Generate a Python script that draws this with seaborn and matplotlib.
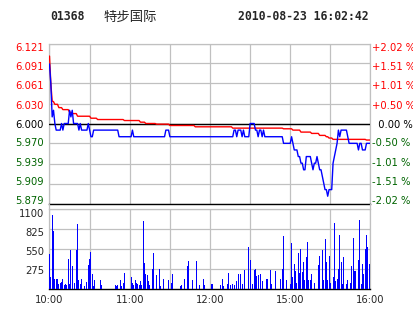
import matplotlib
matplotlib.use("Agg")
import matplotlib.pyplot as plt
from matplotlib.lines import Line2D
import seaborn as sns

# ---------------- data ----------------
stock_code = "01368"
stock_name = "特步国际"
stamp = "2010-08-23 16:02:42"
prev_close = 6.000

# last price per minute, 10:00 .. 12:30 | 14:30 .. 16:00 (241 points)
price = [
    6.09, 6.06, 6.01, 6.02, 6.00, 5.99, 5.99, 5.99, 5.99, 6.00,
    5.99, 6.00, 6.00, 6.00, 6.00, 6.02, 6.01, 6.02, 6.00, 6.00,
    6.00, 6.00, 5.99, 6.00, 5.99, 5.99, 5.99, 5.99, 5.99, 6.00,
    5.99, 5.98, 5.98, 5.99, 5.99, 5.99, 5.99, 5.99, 5.99, 5.99,
    5.99, 5.99, 5.99, 5.99, 5.99, 5.99, 5.99, 5.99, 5.99, 5.99,
    5.99, 5.99, 5.98, 5.98, 5.98, 5.98, 5.98, 5.98, 5.98, 5.98,
    5.98, 5.98, 5.99, 5.98, 5.98, 5.98, 5.98, 5.98, 5.98, 5.98,
    5.98, 5.98, 5.98, 5.98, 5.98, 5.98, 5.98, 5.98, 5.98, 5.98,
    5.98, 5.98, 5.98, 5.98, 5.98, 5.98, 5.98, 5.99, 5.99, 5.99,
    5.98, 5.98, 5.98, 5.98, 5.98, 5.98, 5.98, 5.98, 5.98, 5.98,
    5.98, 5.98, 5.98, 5.98, 5.98, 5.98, 5.98, 5.98, 5.98, 5.98,
    5.98, 5.98, 5.98, 5.98, 5.98, 5.98, 5.98, 5.98, 5.98, 5.98,
    5.98, 5.98, 5.98, 5.98, 5.98, 5.98, 5.98, 5.98, 5.98, 5.98,
    5.98, 5.98, 5.98, 5.98, 5.98, 5.98, 5.98, 5.98, 5.99, 5.99,
    5.98, 5.99, 5.99, 5.99, 5.98, 5.99, 5.98, 5.98, 5.98, 5.98,
    6.00, 6.00, 6.00, 6.00, 5.99, 5.99, 5.98, 5.99, 5.99, 5.98,
    5.99, 5.98, 5.98, 5.98, 5.98, 5.98, 5.98, 5.98, 5.98, 5.98,
    5.98, 5.98, 5.98, 5.98, 5.98, 5.97, 5.97, 5.97, 5.97, 5.97,
    5.97, 5.98, 5.97, 5.96, 5.96, 5.96, 5.95, 5.95, 5.94, 5.94,
    5.93, 5.93, 5.95, 5.95, 5.95, 5.95, 5.94, 5.93, 5.94, 5.94,
    5.95, 5.94, 5.93, 5.93, 5.92, 5.91, 5.90, 5.90, 5.89, 5.90,
    5.90, 5.90, 5.94, 5.95, 5.96, 5.97, 5.99, 5.98, 5.99, 5.99,
    5.99, 5.99, 5.99, 5.98, 5.97, 5.97, 5.97, 5.97, 5.97, 5.97,
    5.97, 5.96, 5.97, 5.97, 5.96, 5.96, 5.96, 5.97, 5.97, 5.97,
    5.97,
]

# average price per minute (241 points)
avg_price = [
    6.102, 6.060, 6.034, 6.033, 6.029, 6.029, 6.029, 6.024, 6.024, 6.024,
    6.021, 6.021, 6.021, 6.021, 6.021, 6.017, 6.017, 6.015, 6.015, 6.015,
    6.015, 6.011, 6.011, 6.011, 6.011, 6.011, 6.011, 6.011, 6.011, 6.011,
    6.011, 6.008, 6.008, 6.008, 6.008, 6.008, 6.006, 6.006, 6.006, 6.006,
    6.006, 6.006, 6.006, 6.006, 6.006, 6.006, 6.006, 6.006, 6.006, 6.006,
    6.006, 6.006, 6.006, 6.006, 6.006, 6.006, 6.0045, 6.0045, 6.0045, 6.0045,
    6.0045, 6.0045, 6.0045, 6.0045, 6.0045, 6.0045, 6.0045, 6.0045, 6.002, 6.002,
    6.002, 6.002, 6.000, 6.000, 6.000, 6.000, 6.000, 6.000, 6.000, 6.000,
    5.999, 5.999, 5.999, 5.999, 5.999, 5.999, 5.999, 5.999, 5.999, 5.999,
    5.997, 5.997, 5.997, 5.997, 5.997, 5.997, 5.997, 5.997, 5.997, 5.997,
    5.997, 5.997, 5.997, 5.997, 5.997, 5.997, 5.997, 5.997, 5.997, 5.995,
    5.995, 5.995, 5.995, 5.995, 5.995, 5.995, 5.995, 5.995, 5.995, 5.995,
    5.995, 5.995, 5.995, 5.995, 5.995, 5.995, 5.995, 5.995, 5.995, 5.995,
    5.995, 5.995, 5.995, 5.995, 5.995, 5.995, 5.995, 5.993, 5.993, 5.993,
    5.993, 5.993, 5.993, 5.993, 5.993, 5.993, 5.993, 5.993, 5.993, 5.993,
    5.993, 5.993, 5.993, 5.993, 5.993, 5.993, 5.993, 5.993, 5.993, 5.993,
    5.993, 5.993, 5.993, 5.993, 5.993, 5.993, 5.993, 5.993, 5.993, 5.993,
    5.993, 5.993, 5.993, 5.993, 5.993, 5.992, 5.992, 5.992, 5.992, 5.992,
    5.992, 5.992, 5.990, 5.990, 5.990, 5.990, 5.990, 5.990, 5.987, 5.987,
    5.987, 5.987, 5.987, 5.987, 5.987, 5.987, 5.985, 5.985, 5.985, 5.985,
    5.985, 5.985, 5.982, 5.982, 5.982, 5.982, 5.982, 5.980, 5.980, 5.978,
    5.978, 5.978, 5.976, 5.976, 5.976, 5.976, 5.976, 5.976, 5.976, 5.976,
    5.976, 5.976, 5.976, 5.976, 5.976, 5.976, 5.976, 5.976, 5.976, 5.976,
    5.976, 5.976, 5.976, 5.976, 5.976, 5.976, 5.976, 5.975, 5.975, 5.975,
    5.975,
]

# volume bars (minute index, volume)
vol_minute = [
    0, 1, 2, 3, 4, 5, 6, 7, 8, 9, 10, 11, 12, 13, 14, 15, 16, 17, 19, 20,
    21, 22, 23, 24, 26, 28, 29, 30, 31, 32, 33, 34, 37, 38, 39, 40, 49, 50, 51, 53,
    54, 55, 56, 61, 62, 63, 64, 65, 66, 67, 68, 69, 70, 71, 72, 73, 74, 75, 77, 78,
    80, 82, 83, 85, 89, 91, 92, 98, 99, 101, 103, 104, 107, 110, 112, 115, 116, 117, 121, 122,
    123, 128, 129, 130, 133, 134, 135, 137, 138, 140, 141, 143, 144, 146, 149, 150, 152, 153, 154, 155,
    156, 158, 159, 162, 163, 165, 166, 169, 173, 174, 175, 177, 180, 181, 182, 183, 184, 185, 186, 187,
    188, 189, 190, 191, 192, 193, 194, 195, 196, 198, 200, 201, 202, 203, 204, 205, 206, 207, 208, 209,
    210, 212, 213, 214, 215, 216, 217, 218, 219, 220, 222, 223, 225, 226, 227, 228, 229, 231, 232, 233,
    234, 235, 236, 237, 238, 239, 240,
]
vol_value = [
    475, 158, 1020, 797, 135, 126, 135, 56, 75, 89, 135, 51, 56, 51, 405, 65, 531, 312, 79, 531,
    895, 112, 65, 126, 28, 89, 322, 405, 508, 205, 28, 112, 98, 112, 42, 89, 42, 28, 42, 112,
    28, 79, 219, 158, 79, 51, 112, 79, 65, 42, 98, 42, 937, 359, 205, 182, 98, 42, 275, 485,
    191, 266, 28, 126, 112, 79, 205, 28, 51, 126, 308, 377, 112, 377, 51, 135, 42, 112, 65, 56,
    391, 42, 126, 28, 65, 219, 51, 56, 42, 98, 205, 205, 65, 252, 568, 391, 65, 261, 275, 168,
    191, 205, 98, 135, 126, 252, 56, 238, 126, 275, 727, 112, 56, 624, 158, 345, 238, 79, 485, 219,
    545, 228, 368, 112, 429, 638, 112, 112, 196, 75, 205, 322, 447, 252, 531, 112, 685, 368, 112, 447,
    79, 158, 904, 98, 135, 266, 741, 368, 56, 429, 56, 112, 79, 308, 704, 238, 238, 391, 951, 65,
    335, 205, 545, 741, 578, 345, 377,
]

price_ticks = [6.121, 6.091, 6.061, 6.030, 6.000, 5.970, 5.939, 5.909, 5.879]
price_labels = ["6.121", "6.091", "6.061", "6.030", "6.000", "5.970", "5.939", "5.909", "5.879"]
pct_labels = ["+2.02 %", "+1.51 %", "+1.01 %", "+0.50 %", "  0.00 %",
              "-0.50 %", "-1.01 %", "-1.51 %", "-2.02 %"]
vol_ticks = [275, 550, 825, 1100]
vol_labels = ["275", "550", "825", "1100"]
time_grid = [0, 30, 60, 90, 120, 150, 180, 210, 240]
time_labels = ["10:00", "", "11:00", "", "12:00", "", "15:00", "", "16:00"]

# ---------------- style ----------------
RED = "#FF0000"
GREEN = "#006400"
BLUE = "#0000FF"
GRID = "#C0C0C0"
W, H = 414, 314

sns.set_style("white")
plt.rcParams["font.family"] = ["DejaVu Sans", "Noto Sans CJK SC"]

fig = plt.figure(figsize=(W / 100, H / 100), dpi=100)
fig.patch.set_facecolor("white")

L, R = 49.5, 370.5
axp = fig.add_axes([L / W, 1 - 203.5 / H, (R - L) / W, 160 / H])
axv = fig.add_axes([L / W, 1 - 288.5 / H, (R - L) / W, 79.5 / H])
axp.yaxis.remove_overlapping_locs = False
axv.yaxis.remove_overlapping_locs = False

minutes = list(range(len(price)))

# ---------------- price panel ----------------
sns.lineplot(x=minutes, y=avg_price, color=RED, lw=1.0, ax=axp, zorder=4)
sns.lineplot(x=minutes, y=price, color=BLUE, lw=1.0, ax=axp, zorder=5)
axp.axhline(prev_close, color="black", lw=1.0, zorder=3)

axp.set_xlim(time_grid[0], time_grid[-1])
axp.set_ylim(min(price_ticks), max(price_ticks))
axp.set_xticks(time_grid)
axp.set_xticklabels([])
axp.set_yticks(price_ticks)
axp.set_yticklabels([])
axp.grid(True, color=GRID, lw=0.9, zorder=1)
axp.set_axisbelow(True)
axp.tick_params(length=0)
axp.set_xlabel("")
axp.set_ylabel("")

def lab_color(i):
    return RED if i < 4 else ("black" if i == 4 else GREEN)

lab_pos = [prev_close + (t - prev_close) * 0.951 for t in price_ticks]
axp.set_yticks(lab_pos, labels=price_labels, minor=True)
axp.tick_params(axis="y", which="minor", length=0, pad=4.0, labelsize=7.2)
for i, t in enumerate(axp.get_yticklabels(minor=True)):
    t.set_color(lab_color(i))

axr = axp.twinx()
axr.set_ylim(axp.get_ylim())
axr.set_yticks(lab_pos, labels=pct_labels)
axr.tick_params(axis="y", length=0, pad=0.8, labelsize=7.2)
for i, t in enumerate(axr.get_yticklabels()):
    t.set_color(lab_color(i))
for s in axr.spines.values():
    s.set_visible(False)

for name in ["left", "right", "top"]:
    axp.spines[name].set_color(GRID)
    axp.spines[name].set_linewidth(0.9)
axp.spines["bottom"].set_color("black")
axp.spines["bottom"].set_linewidth(1.0)

# ---------------- volume panel ----------------
sns.barplot(x=vol_minute, y=vol_value, native_scale=True, color=BLUE,
            saturation=1, width=0.72, errorbar=None, linewidth=0,
            antialiased=False, ax=axv, zorder=4)
axv.set_xlim(time_grid[0], time_grid[-1])
axv.set_ylim(0, max(vol_ticks))
axv.set_xticks(time_grid)
axv.set_xticklabels(time_labels)
axv.set_yticks(vol_ticks)
axv.set_yticklabels([])
axv.grid(True, color=GRID, lw=0.9, zorder=1)
axv.set_axisbelow(True)
axv.tick_params(length=0)
axv.tick_params(axis="x", pad=5.0, labelsize=7.2)
axv.set_yticks([v * 0.945 for v in vol_ticks], labels=vol_labels, minor=True)
axv.tick_params(axis="y", which="minor", length=0, pad=4.0, labelsize=7.2)
axv.set_xlabel("")
axv.set_ylabel("")
for name in ["left", "right", "top"]:
    axv.spines[name].set_color(GRID)
    axv.spines[name].set_linewidth(0.9)
axv.spines["bottom"].set_color("black")
axv.spines["bottom"].set_linewidth(1.0)

# borders continuing through the gap between panels
for xp in (L, R):
    fig.add_artist(Line2D([xp / W, xp / W], [1 - 209 / H, 1 - 203.5 / H],
                          transform=fig.transFigure, color=GRID, lw=0.9))

# ---------------- header ----------------
yh = 1 - 16.5 / H
fig.text(50 / W, yh, stock_code, family="DejaVu Sans Mono", weight="bold",
         fontsize=8.3, va="center", ha="left")
fig.text(104 / W, yh, stock_name, family=["Noto Sans CJK SC", "DejaVu Sans"],
         fontsize=9.6, va="center", ha="left")
fig.text(238 / W, yh, stamp, family="DejaVu Sans Mono", weight="bold",
         fontsize=8.3, va="center", ha="left")

fig.savefig("out.png", dpi=100, facecolor="white")
